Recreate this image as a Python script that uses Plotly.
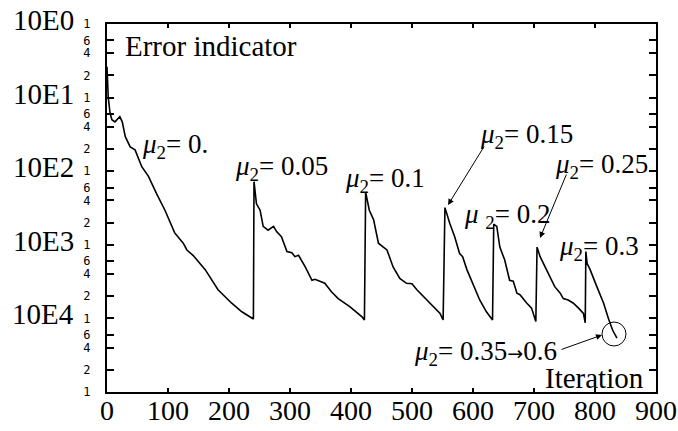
import plotly.graph_objects as go

# ---- data ----
iterations = [0, 2, 5, 8, 13, 21, 25, 30, 38, 46, 57, 68, 81, 95, 111, 125, 131, 141, 161, 182, 204, 221, 240,
              241, 245, 251, 256, 264, 273, 278, 286, 295, 303, 308, 314, 325, 336, 341, 357, 368, 379, 398, 418, 422,
              424, 430, 437, 445, 453, 459, 469, 480, 491, 500, 508, 524, 535, 538, 546, 551,
              554, 562, 570, 578, 583, 590, 600, 611, 622, 632,
              634, 639, 644, 652, 660, 666, 672, 677, 688, 696, 703,
              705, 710, 718, 726, 734, 743, 748, 756, 764, 773, 781, 784,
              785, 787, 792, 803, 814, 822, 829, 836]
error = [2.63e-1, 1.02e-1, 6.17e-2, 5.01e-2, 4.68e-2, 5.50e-2, 4.68e-2, 2.95e-2, 2.14e-2, 1.95e-2, 1.15e-2, 8.51e-3,
         5.01e-3, 2.95e-3, 1.45e-3, 1.05e-3, 8.5e-4, 7.2e-4, 4.6e-4, 2.45e-4, 1.62e-4, 1.23e-4, 9.8e-5,
         7.2e-3, 3.6e-3, 2.95e-3, 1.78e-3, 1.58e-3, 1.78e-3, 1.51e-3, 1.29e-3, 8.1e-4, 7.8e-4, 6.9e-4, 7.2e-4,
         5.0e-4, 3.3e-4, 3.4e-4, 3.0e-4, 2.3e-4, 1.86e-4, 1.45e-4, 1.05e-4, 9.5e-5,
         5.2e-3, 2.95e-3, 2.2e-3, 1.05e-3, 9.3e-4, 8.5e-4, 5.0e-4, 3.5e-4, 3.0e-4, 2.95e-4, 2.45e-4, 1.78e-4,
         1.45e-4, 1.38e-4, 1.17e-4, 9.5e-5,
         3.2e-3, 1.95e-3, 1.29e-3, 7.6e-4, 6.9e-4, 4.6e-4, 3.0e-4, 1.78e-4, 1.23e-4, 9.5e-5,
         1.9e-3, 1.78e-3, 9.3e-4, 6.2e-4, 3.3e-4, 3.2e-4, 2.2e-4, 2.1e-4, 1.62e-4, 1.38e-4, 9.1e-5,
         9.3e-4, 6.9e-4, 5.0e-4, 3.7e-4, 2.7e-4, 2.2e-4, 1.86e-4, 1.78e-4, 1.62e-4, 1.38e-4, 1.17e-4, 8.7e-5,
         8.1e-4, 5.6e-4, 4.6e-4, 2.7e-4, 1.62e-4, 1.0e-4, 6.9e-5, 5.4e-5]

y_minor_vals = [1e-5, 2e-5, 4e-5, 6e-5, 1e-4, 2e-4, 4e-4, 6e-4, 1e-3, 2e-3, 4e-3, 6e-3,
                1e-2, 2e-2, 4e-2, 6e-2, 1e-1, 2e-1, 4e-1, 6e-1, 1.0]
y_minor_text = ["1", "2", "4", "6", "1", "2", "4", "6", "1", "2", "4", "6",
                "1", "2", "4", "6", "1", "2", "4", "6", "1"]
decade_exps = [0, -1, -2, -3, -4]
decade_labels = ["10E0", "10E1", "10E2", "10E3", "10E4"]
x_tick_vals = [0, 100, 200, 300, 400, 500, 600, 700, 800, 900]

ARW = '<span style="font-family:DejaVu Sans;font-size:19px">→</span>'
mu_labels = [
    ("<i>μ</i><sub>2</sub>= 0.", 140, 143),
    ("<i>μ</i><sub>2</sub>= 0.05", 233, 165),
    ("<i>μ</i><sub>2</sub>= 0.1", 343, 177),
    ("<i>μ</i><sub>2</sub>= 0.15", 478, 133),
    ("<i>μ</i> <sub>2</sub>= 0.2", 462, 213),
    ("<i>μ</i><sub>2</sub>= 0.25", 553, 163),
    ("<i>μ</i><sub>2</sub>= 0.3", 557, 245),
    ("<i>μ</i><sub>2</sub>= 0.35" + ARW + "0.6", 412, 350),
]

SERIF = "Liberation Serif, Times New Roman, serif"
W, H = 678, 431
L, R, T, B = 107, 22, 24, 39
PW, PH = W - L - R, H - T - B


def px(x):
    return (x - L) / PW


def py(y):
    return (H - B - y) / PH


fig = go.Figure()
fig.add_trace(go.Scatter(x=iterations, y=error, mode="lines",
                         line=dict(color="black", width=1.6), showlegend=False))

annotations = []
for e, lab in zip(decade_exps, decade_labels):
    annotations.append(dict(text=lab, xref="paper", yref="y", x=px(76), y=e, yshift=4,
                            xanchor="right", yanchor="middle", showarrow=False,
                            font=dict(family=SERIF, size=29, color="black")))
annotations.append(dict(text="Error indicator", xref="paper", yref="paper", x=px(123), y=py(46),
                        xanchor="left", yanchor="middle", showarrow=False,
                        font=dict(family=SERIF, size=29, color="black")))
annotations.append(dict(text="Iteration", xref="paper", yref="paper", x=px(646), y=py(378),
                        xanchor="right", yanchor="middle", showarrow=False,
                        font=dict(family=SERIF, size=29, color="black")))
for txt, xl, yc in mu_labels:
    annotations.append(dict(text=txt, xref="paper", yref="paper", x=px(xl), y=py(yc + 3),
                            xanchor="left", yanchor="middle", showarrow=False,
                            font=dict(family=SERIF, size=27, color="black")))

# arrows: (head_x, head_y, tail_x, tail_y) in pixels
arrows = [(448, 205, 485, 145), (540, 238, 567, 173), (602, 335, 560, 350)]
for hx, hy, tx, ty in arrows:
    annotations.append(dict(text="", xref="paper", yref="paper", x=px(hx), y=py(hy),
                            ax=tx - hx, ay=ty - hy, showarrow=True, arrowhead=2,
                            arrowsize=1.2, arrowwidth=1, arrowcolor="black"))

fig.update_layout(
    width=W, height=H,
    margin=dict(l=L, r=R, t=T, b=B, pad=0, autoexpand=False),
    paper_bgcolor="white", plot_bgcolor="white",
    annotations=annotations,
    shapes=[dict(type="circle", xref="paper", yref="paper",
                 x0=px(602), x1=px(626), y0=py(346), y1=py(322),
                 line=dict(color="black", width=1))],
    xaxis=dict(range=[0, 900], tickvals=x_tick_vals, ticks="inside", ticklen=4, tickwidth=1.5,
               tickcolor="black", showline=True, linewidth=2, linecolor="black", mirror="ticks",
               showgrid=False, zeroline=False, automargin=False, ticklabelstandoff=-8,
               tickfont=dict(family=SERIF, size=28, color="black")),
    yaxis=dict(type="log", range=[-5, 0], tickvals=y_minor_vals, ticktext=y_minor_text,
               ticks="inside", ticklen=7, tickwidth=1.5, tickcolor="black",
               showline=True, linewidth=2, linecolor="black", mirror="ticks",
               showgrid=False, zeroline=False, ticklabelstandoff=12, automargin=False,
               tickfont=dict(family="DejaVu Sans Mono, monospace", size=12, color="black")),
)

fig.write_html("out.html", config={"displayModeBar": False},
               post_script="document.body.style.margin='0px';")
